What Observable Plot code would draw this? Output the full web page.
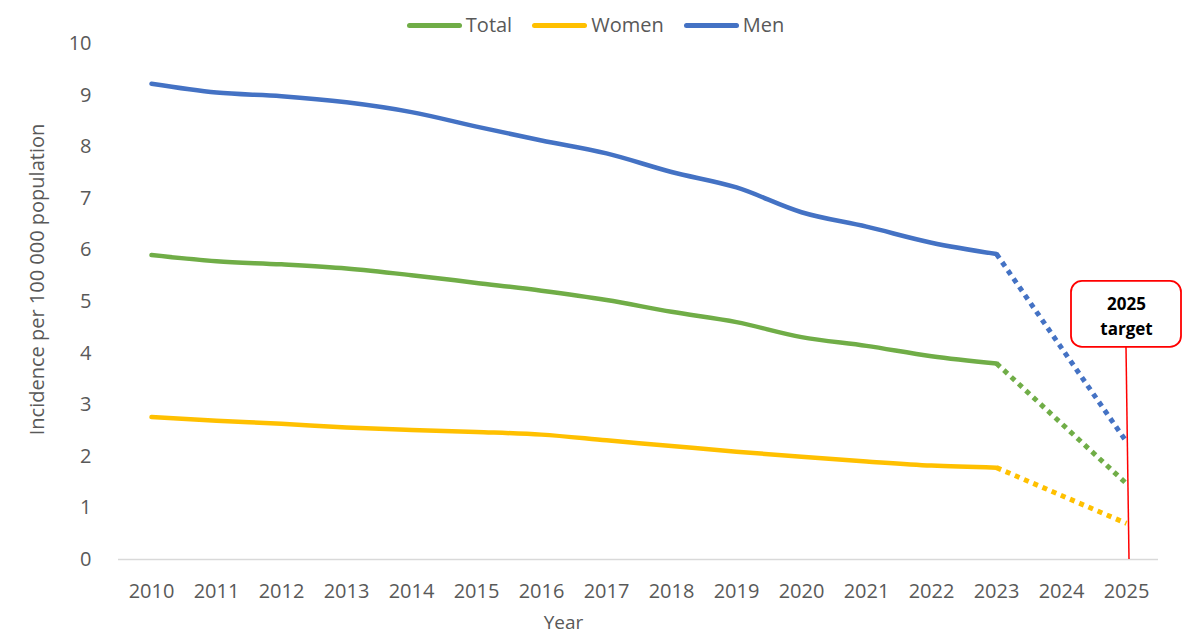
<!DOCTYPE html>
<html>
<head>
<meta charset="utf-8">
<script src="https://cdn.jsdelivr.net/npm/d3@7"></script>
<script src="https://cdn.jsdelivr.net/npm/@observablehq/plot@0.6"></script>
<style>
  html, body { margin: 0; padding: 0; background: #fff; }
  body { width: 1191px; height: 642px; overflow: hidden; font-family: "Open Sans", sans-serif; }
  #legend { height: 22px; padding-top: 14px; display: flex; justify-content: center; align-items: center; gap: 20px; color: #595959; font-size: 20px; }
  .item { display: flex; align-items: center; gap: 4px; line-height: 22px; }
  .sw { width: 55px; height: 5px; border-radius: 3px; display: inline-block; }
</style>
</head>
<body>
<div id="legend"></div>
<div id="chart"></div>
<script>
const years = ["2010","2011","2012","2013","2014","2015","2016","2017","2018","2019","2020","2021","2022","2023"];
const allYears = ["2010","2011","2012","2013","2014","2015","2016","2017","2018","2019","2020","2021","2022","2023","2024","2025"];
const seriesNames = ["Total", "Women", "Men"];
const seriesColors = ["#70AD47", "#FFC000", "#4472C4"];
const total = [5.90, 5.78, 5.72, 5.64, 5.51, 5.36, 5.21, 5.03, 4.80, 4.60, 4.31, 4.14, 3.94, 3.80];
const women = [2.76, 2.69, 2.63, 2.56, 2.51, 2.47, 2.42, 2.31, 2.20, 2.09, 1.99, 1.90, 1.82, 1.78];
const men = [9.22, 9.05, 8.98, 8.86, 8.67, 8.39, 8.12, 7.87, 7.51, 7.21, 6.73, 6.45, 6.14, 5.92];
const projYears = ["2023", "2025"];
const totalProj = [3.80, 1.47];
const womenProj = [1.78, 0.70];
const menProj = [5.92, 2.28];
const yTicks = [0,1,2,3,4,5,6,7,8,9,10];
const targetYear = ["2025"];
const targetBoxY = [4.75];
const targetText = ["2025\ntarget"];
const xTitle = ["Year"];
const yTitle = ["Incidence per 100 000 population"];

const seriesVals = [total, women, men];
const seriesProj = [totalProj, womenProj, menProj];
const solid = seriesNames.flatMap((s, k) => years.map((y, i) => ({series: s, year: y, value: seriesVals[k][i]})));
const dotted = seriesNames.flatMap((s, k) => projYears.map((y, i) => ({series: s, year: y, value: seriesProj[k][i]})));

// legend
const legend = document.getElementById("legend");
seriesNames.forEach((s, k) => {
  const it = document.createElement("div");
  it.className = "item";
  it.innerHTML = `<span class="sw" style="background:${seriesColors[k]}"></span><span>${s}</span>`;
  legend.appendChild(it);
});

const colorScale = {domain: seriesNames, range: seriesColors};

const chart = Plot.plot({
  width: 1191,
  height: 606,
  marginLeft: 118,
  marginRight: 33,
  marginTop: 7,
  marginBottom: 83,
  style: {fontFamily: "Open Sans, sans-serif", fontSize: "20px", color: "#595959", background: "#fff", overflow: "visible"},
  x: {type: "point", domain: allYears, padding: 0.5, label: null},
  y: {domain: [0, 10], label: null},
  color: colorScale,
  marks: [
    Plot.ruleY([0], {stroke: "#d9d9d9", strokeWidth: 1.5}),
    Plot.axisX({tickSize: 0, tickPadding: 24, label: null}),
    Plot.axisY({ticks: yTicks, tickSize: 0, tickPadding: 27, label: null}),
    Plot.line(solid, {x: "year", y: "value", z: "series", stroke: "series", strokeWidth: 4.5, curve: "monotone-x", strokeLinecap: "round", strokeLinejoin: "round"}),
    Plot.line(dotted, {x: "year", y: "value", z: "series", stroke: "series", strokeWidth: 5, strokeDasharray: "5 5", strokeLinecap: "butt"}),
    (index, scales) => {
      const cx = scales.x(targetYear[0]);
      const cy = scales.y(targetBoxY[0]);
      const g = d3.create("svg:g");
      g.append("line")
        .attr("x1", cx).attr("x2", cx + 3)
        .attr("y1", cy + 33).attr("y2", scales.y(0))
        .attr("stroke", "#FF0000").attr("stroke-width", 1.5);
      g.append("rect")
        .attr("x", cx - 55).attr("y", cy - 33)
        .attr("width", 110).attr("height", 66)
        .attr("rx", 11).attr("ry", 11)
        .attr("fill", "#fff").attr("stroke", "#FF0000").attr("stroke-width", 1.8);
      return g.node();
    },
    Plot.text(targetText.map((t, i) => ({t, year: targetYear[i], v: targetBoxY[i]})), {x: "year", y: "v", text: "t", fontSize: 17, fontWeight: "bold", fill: "#000", lineHeight: 1.45}),
    Plot.text(xTitle, {frameAnchor: "bottom", text: d => d, dx: -75, dy: 69, fontSize: 19, fill: "#595959"}),
    Plot.text(yTitle, {frameAnchor: "left", textAnchor: "middle", text: d => d, rotate: -90, dx: -81, dy: -22, fontSize: 20, fill: "#595959"})
  ]
});
document.getElementById("chart").appendChild(chart);
</script>
</body>
</html>
